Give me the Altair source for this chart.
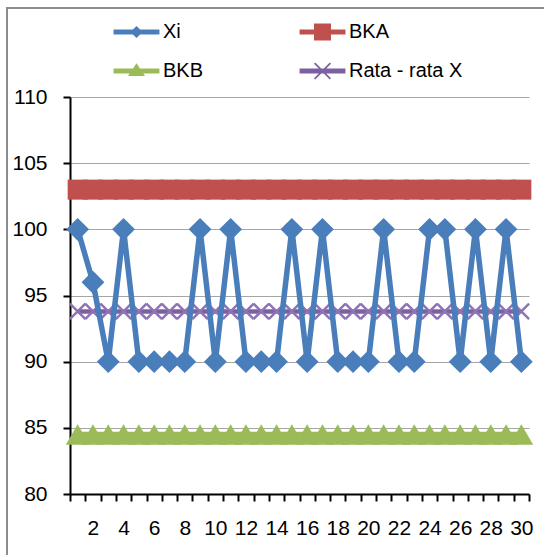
import altair as alt
import pandas as pd

X = list(range(1, 31))
XI = [100, 96, 90, 100, 90, 90, 90, 90, 100, 90, 100, 90, 90, 90, 100,
      90, 100, 90, 90, 90, 100, 90, 90, 100, 100, 90, 100, 90, 100, 90]
BKA = [103.0, 103.0, 103.0, 103.0, 103.0, 103.0, 103.0, 103.0, 103.0, 103.0,
       103.0, 103.0, 103.0, 103.0, 103.0, 103.0, 103.0, 103.0, 103.0, 103.0,
       103.0, 103.0, 103.0, 103.0, 103.0, 103.0, 103.0, 103.0, 103.0, 103.0]
BKB = [84.5, 84.5, 84.5, 84.5, 84.5, 84.5, 84.5, 84.5, 84.5, 84.5,
       84.5, 84.5, 84.5, 84.5, 84.5, 84.5, 84.5, 84.5, 84.5, 84.5,
       84.5, 84.5, 84.5, 84.5, 84.5, 84.5, 84.5, 84.5, 84.5, 84.5]
RATA = [93.8, 93.8, 93.8, 93.8, 93.8, 93.8, 93.8, 93.8, 93.8, 93.8,
        93.8, 93.8, 93.8, 93.8, 93.8, 93.8, 93.8, 93.8, 93.8, 93.8,
        93.8, 93.8, 93.8, 93.8, 93.8, 93.8, 93.8, 93.8, 93.8, 93.8]
SERIES = ["Xi", "BKA", "BKB", "Rata - rata X"]
COLORS = ["#4A7EBB", "#C0504D", "#9BBB59", "#7D60A0"]
Y_TICKS = [80, 85, 90, 95, 100, 105, 110]
X_BOUNDS = [i + 0.5 for i in range(0, 31)]

FONT = "Liberation Sans"

# legend symbols: line + marker drawn as filled polygons
LINE = "M-1.35,-0.15L1.35,-0.15L1.35,0.15L-1.35,0.15Z"
LEG_SHAPES = [
    LINE + "M0,-0.36L0.36,0L0,0.36L-0.36,0Z",
    LINE + "M-0.5,-0.5L0.5,-0.5L0.5,0.5L-0.5,0.5Z",
    LINE + "M0,-0.45L0.5,0.3L-0.5,0.3Z",
    LINE + "M-0.5,-0.43L-0.43,-0.5L0.5,0.43L0.43,0.5Z"
         + "M0.43,-0.5L0.5,-0.43L-0.43,0.5L-0.5,0.43Z",
]

df = pd.DataFrame({"x": X, "Xi": XI, "BKA": BKA, "BKB": BKB, "Rata": RATA})

xscale = alt.Scale(domain=[0.5, 30.5], nice=False, zero=False)
yscale = alt.Scale(domain=[80, 110], nice=False, zero=False)

xaxis = alt.Axis(
    values=X_BOUNDS, title=None, grid=False,
    labelExpr="(datum.value - 0.5) % 2 == 0 && datum.value > 1 ? format(datum.value - 0.5, 'd') : ''",
    labelOffset=-7.65, labelFlush=False, labelOverlap=False, labelBound=False,
    labelFont=FONT, labelFontSize=21, labelColor="black", labelPadding=16,
    tickSize=7, tickWidth=2, tickColor="black",
    domainColor="black", domainWidth=2,
)
yaxis = alt.Axis(
    values=Y_TICKS, title=None, grid=True, gridColor="#a6a6a6", gridWidth=1,
    labelFont=FONT, labelFontSize=21, labelColor="black", labelPadding=16,
    tickSize=7, tickWidth=2, tickColor="black",
    domainColor="black", domainWidth=2,
)

base = alt.Chart(df)


def series_layers(col, color, point_kw, line_w=5.5):
    ln = base.mark_line(color=color, strokeWidth=line_w).encode(
        x=alt.X("x:Q", scale=xscale, axis=xaxis),
        y=alt.Y(f"{col}:Q", scale=yscale, axis=yaxis),
    )
    pt = base.mark_point(**point_kw).encode(
        x=alt.X("x:Q", scale=xscale, axis=xaxis),
        y=alt.Y(f"{col}:Q", scale=yscale, axis=yaxis),
    )
    return [ln, pt]


border = alt.Chart(pd.DataFrame({"a": [0]})).mark_rect(
    fillOpacity=0, stroke="#8c8c8c", strokeWidth=2
).encode(x=alt.value(-63), x2=alt.value(500), y=alt.value(-89), y2=alt.value(490))

legend_layer = alt.Chart(pd.DataFrame({"series": SERIES})).transform_filter(
    "false"
).mark_point(filled=True, opacity=1).encode(
    x=alt.X("x:Q", scale=xscale, axis=xaxis),
    color=alt.Color("series:N", scale=alt.Scale(domain=SERIES, range=COLORS),
                    legend=alt.Legend(
                        title=None, orient="none", legendX=49.5, legendY=-82,
                        direction="horizontal",
                        columns=2, gridAlign="all", columnPadding=23, rowPadding=12,
                        symbolSize=1156, symbolStrokeWidth=0, symbolOpacity=1,
                        labelFont=FONT, labelFontSize=20, labelColor="black",
                        labelOffset=9.5, padding=0)),
    shape=alt.Shape("series:N", scale=alt.Scale(domain=SERIES, range=LEG_SHAPES)),
)

layers = [border]
layers += series_layers("BKB", COLORS[2], dict(shape="triangle-up", filled=True, size=560,
                                               color=COLORS[2], opacity=1))
layers += series_layers("BKA", COLORS[1], dict(shape="square", filled=True, size=400,
                                               color=COLORS[1], opacity=1))
layers += series_layers("Rata", COLORS[3], dict(shape="M-1,-1L1,1M1,-1L-1,1", filled=False,
                                                size=240, color="#8E74B4", strokeWidth=2.5,
                                                opacity=1), line_w=4.5)
layers += series_layers("Xi", COLORS[0], dict(shape="diamond", filled=True, size=520,
                                              color=COLORS[0], opacity=1))
layers.append(legend_layer)

chart = alt.layer(*layers).properties(
    width=459, height=397,
    autosize=alt.AutoSizeParams(type="none"),
    padding={"left": 70, "top": 97, "right": 15, "bottom": 61},
    background="white",
).configure_view(strokeWidth=0)

chart.save("out.html", embed_options={"renderer": "svg", "actions": False})
